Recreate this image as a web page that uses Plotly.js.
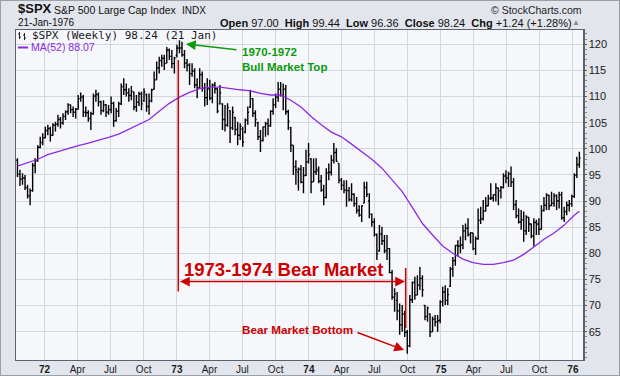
<!DOCTYPE html>
<html><head><meta charset="utf-8">
<script src="https://cdn.plot.ly/plotly-3.0.1.min.js"></script>
<style>
html,body{margin:0;padding:0;background:#e4e7ed;}
#wrap{position:relative;width:620px;height:376px;overflow:hidden;}
#chart{width:620px;height:376px;}
#frame{position:absolute;left:0;top:0;width:618px;height:374px;border:1px solid #9aa0aa;pointer-events:none;}
</style></head><body>
<div id="wrap"><div id="chart"></div><div id="frame"></div></div>
<script>
// ---- Weekly $SPX bars (week starting Monday 1971-10-18, one bar per week) ----
const firstWeek = '1971-10-18';
const opens = [
97.8,95.1,94.2,94.4,92.6,91.0,92.0,96.8,97.7,100.3,
101.2,102.1,103.5,103.9,102.6,104.5,104.7,105.6,105.0,106.2,
107.1,108.4,107.5,107.0,107.6,109.6,109.9,107.0,106.9,105.8,
106.7,110.1,110.4,109.0,107.3,108.4,107.0,107.5,108.7,105.4,
107.2,108.6,111.9,111.3,110.7,110.2,110.9,108.0,108.9,110.5,
109.2,110.4,108.1,109.2,111.4,113.2,115.5,116.9,117.3,116.4,
118.9,117.7,116.3,117.9,119.3,119.3,118.0,116.4,116.0,114.4,
114.9,112.2,111.7,114.2,111.6,109.8,111.5,109.7,112.2,111.5,
108.6,108.6,105.6,104.5,107.3,104.0,106.0,103.7,102.6,103.8,
103.2,105.5,108.0,109.6,106.8,105.0,102.3,101.6,104.2,104.8,
104.4,107.2,108.4,109.9,111.4,110.2,111.4,107.1,104.0,100.7,
96.6,95.5,96.1,93.6,94.9,97.5,98.1,93.7,95.6,95.8,
93.8,92.1,90.7,95.4,95.5,97.8,99.3,97.2,94.0,93.0,
92.1,92.0,90.3,91.3,89.5,88.2,87.3,89.6,92.6,90.0,
87.5,86.0,83.6,80.5,83.7,82.4,80.5,80.9,76.3,71.6,
71.0,69.0,66.3,68.4,64.9,62.3,71.1,74.4,72.0,73.9,
75.2,70.0,67.9,68.4,65.0,67.4,66.9,67.2,70.7,72.6,
71.0,73.7,77.0,78.6,81.5,81.4,81.6,84.3,84.8,83.6,
83.9,80.9,82.8,86.3,86.6,88.1,89.1,90.5,90.6,91.2,
92.5,92.0,92.6,94.8,94.4,95.2,93.6,89.3,87.2,86.0,
86.4,84.3,86.9,85.6,83.3,85.9,85.6,84.6,88.2,89.2,
91.1,89.2,89.6,91.0,90.0,91.2,86.8,88.0,89.2,89.5,
90.9,95.0,97.00];
const highs = [
98.2,96.0,95.3,95.0,93.1,92.4,97.3,98.2,100.7,102.3,
103.0,104.2,104.6,104.2,104.9,105.2,106.5,106.1,106.8,107.4,
108.7,108.5,108.1,107.8,110.3,110.8,110.3,108.1,107.4,107.1,
110.6,111.3,110.8,109.2,109.3,108.6,108.4,110.0,109.0,107.8,
109.0,112.5,113.5,112.5,111.6,112.0,110.9,110.3,110.9,110.9,
111.6,110.6,110.6,111.5,114.8,116.7,117.6,118.0,118.0,119.5,
119.2,118.9,117.6,119.9,120.8,120.5,118.9,117.2,116.4,116.4,
115.4,113.5,115.4,114.8,112.6,113.5,113.2,112.5,112.8,111.6,
112.2,108.7,108.4,108.7,107.4,108.1,106.1,105.2,104.9,104.2,
105.8,108.1,111.3,109.7,107.4,105.2,103.6,104.2,105.2,105.8,
107.4,109.7,110.6,112.8,112.8,112.5,112.2,107.5,104.2,100.7,
97.8,96.4,96.9,96.5,99.8,101.1,98.2,98.2,98.2,96.6,
95.0,93.1,96.3,97.2,98.8,101.1,100.1,97.2,94.4,94.0,
94.0,92.7,93.4,91.5,90.8,89.2,89.2,93.7,93.7,91.5,
87.6,86.7,83.8,85.4,85.1,83.5,83.5,81.0,76.8,73.3,
72.6,70.4,70.1,69.0,65.3,72.0,74.6,75.5,75.8,77.4,
75.8,70.1,69.8,68.5,67.9,68.2,68.2,71.0,73.6,73.9,
73.3,77.4,79.3,81.6,82.5,83.2,85.4,85.7,86.7,84.1,
83.9,83.2,88.6,88.9,90.2,90.8,91.2,93.4,91.3,93.4,
92.6,92.9,95.3,95.9,95.6,96.6,94.4,90.2,88.6,88.3,
88.0,87.3,86.9,85.7,86.7,86.4,86.7,89.2,90.8,91.5,
91.2,91.8,91.5,91.3,91.8,91.8,88.9,89.9,90.2,91.2,
95.3,98.5,99.44];
const lows = [
94.6,92.9,93.1,92.1,90.5,89.2,91.8,95.3,97.5,100.1,
100.7,102.0,102.6,101.4,102.5,103.3,104.2,103.9,104.6,105.5,
106.5,106.8,106.1,105.8,107.5,109.0,106.1,106.1,105.2,103.6,
106.5,109.0,108.1,106.5,107.0,106.1,106.5,106.8,104.2,105.2,
106.1,108.4,110.3,110.0,109.0,109.3,107.4,107.1,108.2,107.4,
109.0,107.1,106.5,108.9,111.3,113.2,114.4,115.7,115.1,116.4,
117.0,115.4,114.4,117.5,118.3,117.6,115.4,114.8,112.2,113.8,
111.6,109.7,111.5,110.9,108.1,108.4,109.3,108.7,110.6,106.8,
108.5,103.6,103.3,104.2,101.1,103.6,102.6,100.7,101.7,100.4,
103.0,104.6,107.8,106.1,104.2,101.7,99.4,101.4,102.3,102.6,
104.2,106.5,107.8,109.0,110.0,107.4,106.5,103.6,99.4,95.0,
93.1,92.0,93.4,91.5,94.8,97.2,91.5,93.7,95.0,93.4,
91.8,89.2,90.5,94.0,94.9,97.2,97.5,93.4,92.1,91.5,
88.9,89.9,89.9,88.9,87.6,87.0,86.0,89.6,90.8,86.7,
85.1,83.2,78.7,80.3,81.6,80.0,78.7,76.2,71.1,68.8,
67.2,64.4,65.0,64.0,60.8,62.0,70.5,71.1,72.0,73.0,
71.7,67.2,66.9,64.0,65.0,66.0,65.0,66.6,69.8,70.1,
70.1,73.6,75.5,77.6,79.3,80.0,80.8,82.5,83.2,81.9,
80.6,79.7,82.6,85.6,86.3,88.0,89.0,90.2,89.9,89.9,
89.2,90.5,92.4,93.4,92.7,92.7,88.3,86.7,85.7,84.5,
82.2,83.5,84.1,82.9,81.3,83.5,83.5,84.5,88.0,88.3,
88.3,89.0,88.9,88.3,88.6,86.4,86.0,87.3,88.0,88.9,
90.6,94.4,96.36];
const closes = [
95.1,94.2,94.4,92.6,91.0,92.0,96.8,97.7,100.3,101.2,
102.1,103.5,103.9,102.6,104.5,104.7,105.6,105.0,106.2,107.1,
108.4,107.5,107.0,107.6,109.6,109.9,107.0,106.9,105.8,106.7,
110.1,110.4,109.0,107.3,108.4,107.0,107.5,108.7,105.4,107.2,
108.6,111.9,111.3,110.7,110.2,111.0,108.0,108.9,110.5,108.6,
110.9,108.1,109.2,111.2,113.2,115.5,116.9,117.3,116.3,118.9,
117.7,116.3,117.4,119.3,119.3,118.0,116.4,116.0,114.4,114.9,
112.2,111.7,114.2,111.6,109.8,111.5,109.7,112.2,111.5,107.2,
110.7,105.6,104.5,107.9,104.0,107.0,103.7,102.6,104.3,101.3,
105.5,107.0,109.6,106.8,105.6,102.3,101.6,104.2,104.8,104.4,
107.2,108.4,109.9,111.4,110.2,111.4,107.1,105.3,100.7,96.6,
96.0,96.1,93.6,94.9,97.5,98.9,93.7,95.6,96.1,93.8,
92.1,90.7,95.4,95.5,97.8,99.3,97.6,94.0,93.0,92.1,
92.0,90.3,91.3,89.5,88.2,87.3,89.1,92.6,91.3,87.5,
86.0,83.6,79.9,83.7,82.4,80.5,80.9,76.3,71.6,72.2,
69.0,66.3,68.4,64.9,62.3,71.1,74.4,72.0,73.9,75.2,
73.0,67.9,69.5,65.0,67.4,66.9,67.1,70.7,72.6,71.0,
72.1,77.0,78.6,81.5,81.4,81.6,84.3,84.8,83.6,83.9,
80.9,82.8,86.3,86.6,88.1,89.1,90.5,90.6,91.2,92.5,
92.0,92.6,94.8,94.4,95.2,93.6,89.3,87.2,86.0,86.4,
84.3,86.9,85.6,83.3,85.9,85.6,84.6,88.2,89.2,91.1,
89.0,89.6,91.0,90.0,91.2,86.8,88.0,89.2,89.5,90.9,
94.9,97.0,98.24];

// ---- MA(52), at these bar indices ----
const maWeekIdx = [0,4,8,12,16,20,24,28,32,36,40,44,48,52,56,60,64,68,72,76,80,84,88,92,96,100,104,108,112,116,120,124,128,132,136,140,144,148,152,156,160,164,168,172,176,180,184,188,192,196,200,204,208,212,216,220,222];
const maValues = [96.7,97.3,98.0,98.9,99.5,100.0,100.6,101.1,101.6,102.2,102.8,103.7,104.6,105.6,107.2,108.7,109.9,110.8,111.5,111.8,111.8,111.5,111.3,111.1,110.6,110.3,110.3,109.3,108.0,106.2,104.6,103.2,102.3,100.9,99.5,98.0,96.3,94.0,91.8,88.8,85.7,83.5,81.4,80.0,78.9,78.2,77.9,77.9,78.2,78.7,79.8,81.2,82.7,83.9,85.4,87.3,88.07];

// ---- Axis ticks ----
const xTickDates = ['1972-01-01','1972-04-01','1972-07-01','1972-10-01','1973-01-01','1973-04-01','1973-07-01','1973-10-01','1974-01-01','1974-04-01','1974-07-01','1974-10-01','1975-01-01','1975-04-01','1975-07-01','1975-10-01','1976-01-01'];
const xTickText = ['<b>72</b>','Apr','Jul','Oct','<b>73</b>','Apr','Jul','Oct','<b>74</b>','Apr','Jul','Oct','<b>75</b>','Apr','Jul','Oct','<b>76</b>'];
const yTicks = [65,70,75,80,85,90,95,100,105,110,115,120];

// ---- build ----
const t0 = Date.UTC(1971,9,18);
const dates = closes.map((_, i) => new Date(t0 + i*7*86400000).toISOString().slice(0,10));
const maDates = maWeekIdx.map(i => dates[i]);

const L = 16, R = 583, T = 30, B = 360;
const PX = px => (px - L) / (R - L);
const PY = py => (B - py) / (B - T);

const SANS = 'Liberation Sans, Arial, sans-serif';
const RED = '#cc0000', GREEN = '#0c9a0c', PURPLE = '#8a2be2';

function txt(text, px, py, xanchor, size, color, family, extra) {
  return Object.assign({xref:'paper', yref:'paper', x:PX(px), y:PY(py), xanchor:xanchor, yanchor:'middle',
    text:text, showarrow:false, borderpad:0, font:{family:family||SANS, size:size, color:color||'#111'}}, extra||{});
}
function seg(x0,y0,x1,y1,color,w){
  return {type:'line', xref:'paper', yref:'paper', x0:PX(x0), y0:PY(y0), x1:PX(x1), y1:PY(y1), line:{color:color, width:w}};
}

const annotations = [
  txt('<b>$SPX</b>', 16.5, 9, 'left', 13, '#111'),
  txt('S&P 500 Large Cap Index', 53, 10, 'left', 10.5, '#111'),
  txt('INDX', 181, 10, 'left', 10, '#111'),
  txt('© StockCharts.com', 583, 10, 'right', 10.5, '#222'),
  txt('21-Jan-1976', 16.5, 23, 'left', 10, '#111'),
  txt('<b>Open</b> 97.00  <b>High</b> 99.44  <b>Low</b> 96.36  <b>Close</b> 98.24  <b>Chg</b> +1.24 (+1.28%)', 573, 23, 'right', 11, '#111'),
  txt('▲', 581, 23, 'right', 8, '#8a8a8a'),
  txt('$SPX (Weekly) 98.24 (21 Jan)', 30.5, 35.5, 'left', 11, '#1a1a1a', 'DejaVu Sans Mono, monospace'),
  txt('MA(52) 88.07', 29.5, 47.5, 'left', 10.5, PURPLE),
  txt('<b>1970-1972</b>', 241, 52, 'left', 11.5, GREEN),
  txt('<b>Bull Market Top</b>', 241, 67, 'left', 11.5, GREEN),
  txt('<b>1973-1974 Bear Market</b>', 284, 269, 'center', 18.5, RED),
  txt('<b>Bear Market Bottom</b>', 297, 329, 'center', 11.7, RED),
  // arrows
  {xref:'paper', yref:'paper', x:PX(186), y:PY(44), ax:52, ay:6, text:'', showarrow:true,
   arrowhead:2, arrowsize:1.3, arrowwidth:1.5, arrowcolor:GREEN},
  {xref:'paper', yref:'paper', x:PX(405), y:PY(281.5), ax:-226.5, ay:0, text:'', showarrow:true,
   arrowside:'end+start', arrowhead:2, startarrowhead:2, arrowsize:1.3, startarrowsize:1.3, arrowwidth:1.5, arrowcolor:RED},
  {xref:'paper', yref:'paper', x:PX(404), y:PY(350), ax:-48, ay:-18, text:'', showarrow:true,
   arrowhead:2, arrowsize:1.3, arrowwidth:1.5, arrowcolor:RED}
];

const shapes = [
  seg(178.3, 60, 178.3, 291.5, RED, 1.5),
  seg(405.7, 268, 405.7, 328, RED, 1.5),
  // legend bar glyph
  seg(19.5,32,19.5,39,'#222',1), seg(18,34,19.5,34,'#222',1), seg(19.5,37,21,37,'#222',1),
  seg(24.5,33,24.5,40,'#222',1), seg(23,35,24.5,35,'#222',1), seg(24.5,38,26,38,'#222',1),
  // MA legend dash
  seg(18,47.5,28,47.5,PURPLE,2)
];

const traces = [
  {type:'scatter', mode:'lines', x:maDates, y:maValues, line:{color:PURPLE, width:1.3}, hoverinfo:'skip', showlegend:false},
  {type:'ohlc', x:dates, open:opens, high:highs, low:lows, close:closes, tickwidth:0.5,
   increasing:{line:{color:'#000', width:1.4}}, decreasing:{line:{color:'#000', width:1.4}},
   hoverinfo:'skip', showlegend:false}
];

const layout = {
  width:620, height:376,
  margin:{l:L, r:620-R, t:T, b:376-B, pad:0},
  paper_bgcolor:'#e2e5ec', plot_bgcolor:'#f6f7fb',
  showlegend:false,
  font:{family:SANS, size:11, color:'#111'},
  xaxis:{type:'date', range:['1971-10-14','1976-01-29'], tickvals:xTickDates, ticktext:xTickText,
    ticks:'', showgrid:true, gridcolor:'#d3d7df', gridwidth:1, zeroline:false,
    showline:true, mirror:true, linecolor:'#5d626b', linewidth:1,
    tickfont:{family:SANS, size:10, color:'#1a1a1a'}, rangeslider:{visible:false}, fixedrange:true},
  yaxis:{side:'right', range:[59.58,122.74], tickvals:yTicks, ticks:'outside', ticklen:2, tickcolor:'#555',
    showgrid:true, gridcolor:'#d3d7df', gridwidth:1, zeroline:false,
    showline:true, mirror:true, linecolor:'#5d626b', linewidth:1.5,
    minor:{dtick:1, tick0:0, ticks:'outside', ticklen:2, tickcolor:'#888', showgrid:false},
    tickfont:{family:SANS, size:11, color:'#1a1a1a'}, fixedrange:true},
  annotations:annotations, shapes:shapes
};

Plotly.newPlot('chart', traces, layout, {staticPlot:true, displayModeBar:false});
</script></body></html>
